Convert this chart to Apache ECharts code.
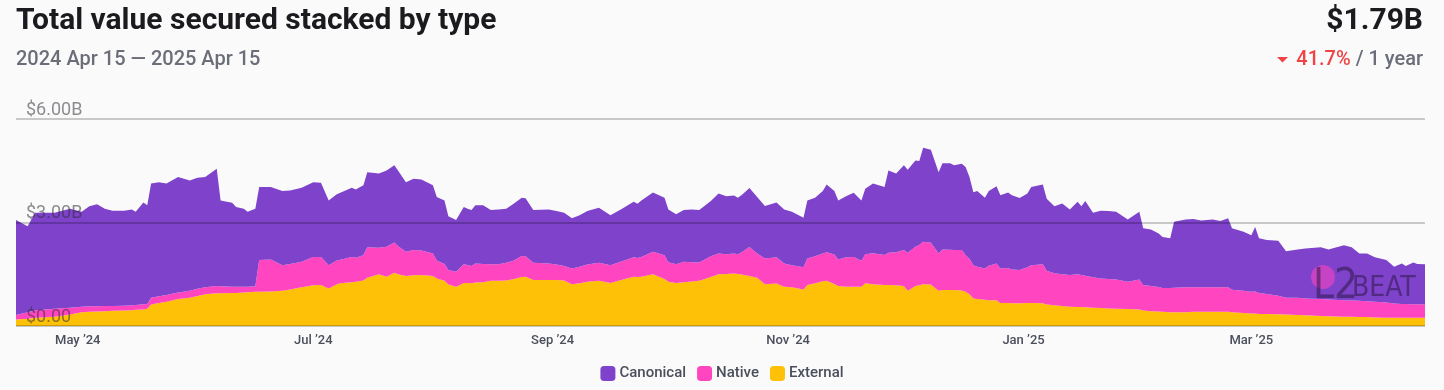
<!DOCTYPE html>
<html>
<head>
<meta charset="utf-8">
<script src="https://cdn.jsdelivr.net/npm/echarts@6/dist/echarts.min.js"></script>
<style>
html,body{margin:0;padding:0;background:#fafafa;}
#chart{width:1444px;height:390px;}
</style>
</head>
<body>
<div id="chart"></div>
<script>
// ---- data (USD billions) ----
const dates = ['2024-04-15','2024-04-18','2024-04-20','2024-04-25','2024-04-29','2024-05-02','2024-05-04','2024-05-06','2024-05-08','2024-05-10',
'2024-05-13','2024-05-15','2024-05-16','2024-05-18','2024-05-19','2024-05-20','2024-05-22','2024-05-24','2024-05-27','2024-05-30',
'2024-06-01','2024-06-03','2024-06-06','2024-06-07','2024-06-10','2024-06-11','2024-06-13','2024-06-14','2024-06-16','2024-06-17',
'2024-06-20','2024-06-23','2024-06-25','2024-06-28','2024-07-01','2024-07-03','2024-07-05','2024-07-07','2024-07-08','2024-07-11',
'2024-07-12','2024-07-14','2024-07-15','2024-07-18','2024-07-20','2024-07-22','2024-07-23','2024-07-25','2024-07-27','2024-07-29',
'2024-08-01','2024-08-02','2024-08-04','2024-08-05','2024-08-07','2024-08-09','2024-08-10','2024-08-11','2024-08-12','2024-08-14',
'2024-08-16','2024-08-18','2024-08-20','2024-08-22','2024-08-24','2024-08-25','2024-08-27','2024-08-31','2024-09-02','2024-09-04',
'2024-09-06','2024-09-08','2024-09-10','2024-09-13','2024-09-16','2024-09-19','2024-09-22','2024-09-23','2024-09-24','2024-09-27',
'2024-09-30','2024-10-01','2024-10-03','2024-10-05','2024-10-07','2024-10-09','2024-10-12','2024-10-14','2024-10-16','2024-10-18',
'2024-10-19','2024-10-20','2024-10-22','2024-10-24','2024-10-26','2024-10-29','2024-10-31','2024-11-02','2024-11-05','2024-11-06',
'2024-11-08','2024-11-10','2024-11-11','2024-11-13','2024-11-14','2024-11-16','2024-11-18','2024-11-20','2024-11-21','2024-11-23',
'2024-11-26','2024-11-27','2024-11-29','2024-12-01','2024-12-02','2024-12-04','2024-12-05','2024-12-06','2024-12-08','2024-12-10',
'2024-12-11','2024-12-13','2024-12-14','2024-12-16','2024-12-17','2024-12-18','2024-12-19','2024-12-20','2024-12-22','2024-12-23',
'2024-12-25','2024-12-26','2024-12-28','2024-12-29','2024-12-31','2025-01-02','2025-01-03','2025-01-06','2025-01-07','2025-01-09',
'2025-01-11','2025-01-13','2025-01-15','2025-01-16','2025-01-17','2025-01-19','2025-01-21','2025-01-23','2025-01-25','2025-01-28',
'2025-01-31','2025-02-01','2025-02-03','2025-02-05','2025-02-06','2025-02-08','2025-02-09','2025-02-12','2025-02-14','2025-02-16',
'2025-02-19','2025-02-21','2025-02-23','2025-02-24','2025-02-27','2025-03-01','2025-03-02','2025-03-03','2025-03-05','2025-03-08',
'2025-03-10','2025-03-13','2025-03-15','2025-03-19','2025-03-21','2025-03-25','2025-03-27','2025-03-29','2025-03-31','2025-04-02',
'2025-04-05','2025-04-07','2025-04-09','2025-04-10','2025-04-12','2025-04-13','2025-04-15'];

const canonical = [2.75,2.49,2.82,2.78,2.87,2.75,2.90,2.96,2.82,2.76,
2.75,2.78,2.70,2.95,2.86,3.31,3.31,3.23,3.35,3.20,
3.22,3.20,3.40,2.49,2.43,2.31,2.26,2.17,2.25,2.12,
2.10,2.15,2.13,2.15,2.17,2.15,1.88,1.92,1.94,2.01,
1.98,2.03,2.18,2.15,2.21,2.24,2.19,2.02,2.07,2.06,
1.98,1.84,1.84,1.56,1.50,1.66,1.63,1.62,1.69,1.70,
1.57,1.59,1.57,1.65,1.69,1.68,1.53,1.57,1.55,1.54,
1.45,1.49,1.55,1.60,1.45,1.52,1.61,1.57,1.64,1.72,
1.67,1.53,1.45,1.50,1.53,1.52,1.60,1.74,1.68,1.68,
1.64,1.66,1.71,1.64,1.52,1.59,1.57,1.55,1.44,1.68,
1.70,1.81,1.96,1.84,1.71,1.77,1.86,1.75,1.90,2.02,
1.97,2.39,2.28,2.46,2.41,2.50,2.43,2.73,2.70,2.36,
2.50,2.51,2.46,2.50,2.56,2.37,2.12,2.19,2.05,2.16,
2.24,2.12,2.19,2.15,2.09,2.14,2.27,2.31,2.09,1.94,
2.05,1.90,2.10,1.99,2.16,1.87,1.96,1.97,1.96,1.81,
1.96,1.64,1.64,1.55,1.48,1.44,1.91,1.97,1.98,1.94,
1.97,1.92,2.00,1.78,1.71,1.64,1.87,1.58,1.56,1.59,
1.35,1.40,1.45,1.50,1.45,1.59,1.54,1.37,1.38,1.29,
1.23,1.07,1.17,1.10,1.21,1.17,1.16];

const native = [0.13,0.19,0.22,0.23,0.20,0.16,0.16,0.15,0.15,0.14,
0.14,0.14,0.14,0.15,0.14,0.20,0.19,0.20,0.19,0.20,
0.21,0.20,0.21,0.20,0.18,0.18,0.17,0.16,0.16,0.92,
0.93,0.74,0.74,0.74,0.82,0.81,0.67,0.69,0.68,0.73,
0.70,0.73,0.88,0.77,0.87,0.88,0.81,0.70,0.73,0.71,
0.65,0.52,0.49,0.42,0.43,0.54,0.52,0.50,0.55,0.53,
0.48,0.48,0.51,0.54,0.61,0.59,0.50,0.48,0.45,0.42,
0.46,0.48,0.50,0.52,0.51,0.54,0.56,0.55,0.57,0.65,
0.69,0.57,0.54,0.59,0.56,0.53,0.60,0.60,0.57,0.58,
0.57,0.65,0.84,0.70,0.75,0.76,0.67,0.64,0.64,0.77,
0.78,0.80,0.83,0.85,0.77,0.85,0.86,0.75,0.84,0.90,
0.87,0.93,0.96,1.04,1.10,1.14,1.17,1.23,1.21,1.08,
1.18,1.17,1.16,1.17,1.06,1.03,0.96,0.94,0.91,1.00,
1.06,1.00,1.01,0.98,0.96,1.03,1.09,1.13,0.98,0.93,
0.92,0.92,0.95,0.93,0.92,0.88,0.86,0.85,0.85,0.79,
0.87,0.74,0.73,0.71,0.69,0.70,0.71,0.72,0.71,0.71,
0.71,0.71,0.71,0.65,0.64,0.63,0.64,0.61,0.58,0.54,
0.49,0.50,0.49,0.49,0.49,0.48,0.47,0.47,0.46,0.45,
0.44,0.41,0.40,0.40,0.39,0.39,0.39];

const external = [0.19,0.21,0.24,0.27,0.33,0.40,0.41,0.42,0.43,0.44,
0.45,0.46,0.47,0.48,0.50,0.62,0.67,0.70,0.78,0.82,
0.87,0.92,0.95,0.95,0.96,0.96,0.97,0.98,0.99,0.99,
1.00,1.02,1.06,1.12,1.18,1.19,1.09,1.20,1.24,1.27,
1.28,1.32,1.40,1.50,1.43,1.54,1.50,1.45,1.47,1.48,
1.45,1.38,1.31,1.20,1.14,1.25,1.25,1.24,1.26,1.27,
1.31,1.31,1.32,1.36,1.42,1.43,1.33,1.33,1.33,1.32,
1.21,1.24,1.28,1.31,1.25,1.34,1.43,1.42,1.43,1.50,
1.36,1.28,1.25,1.27,1.29,1.31,1.42,1.50,1.51,1.52,
1.51,1.49,1.45,1.40,1.21,1.23,1.14,1.12,1.06,1.19,
1.24,1.30,1.31,1.22,1.16,1.14,1.14,1.14,1.24,1.21,
1.19,1.19,1.18,1.16,1.02,1.16,1.18,1.21,1.20,1.02,
1.04,1.04,1.04,1.03,0.99,0.92,0.80,0.78,0.76,0.75,
0.75,0.67,0.67,0.66,0.66,0.67,0.67,0.66,0.62,0.60,
0.58,0.56,0.55,0.55,0.54,0.53,0.52,0.51,0.50,0.49,
0.48,0.45,0.43,0.42,0.41,0.40,0.40,0.40,0.41,0.41,
0.41,0.41,0.41,0.40,0.38,0.36,0.36,0.35,0.35,0.34,
0.33,0.32,0.31,0.29,0.28,0.27,0.27,0.26,0.26,0.25,
0.24,0.24,0.24,0.24,0.24,0.24,0.24];

const xTickDates = ['2024-05-01','2024-07-01','2024-09-01','2024-11-01','2025-01-01','2025-03-01'];
const monthNames = ['Jan','Feb','Mar','Apr','May','Jun','Jul','Aug','Sep','Oct','Nov','Dec'];

const titleText = 'Total value secured stacked by type';
const rangeText = '2024 Apr 15 \u2014 2025 Apr 15';
const totalText = '$1.79B';
const changeText = '41.7%';
const periodText = ' / 1 year';

// ---- build ----
const ts = s => { const p = s.split('-').map(Number); return Date.UTC(p[0], p[1]-1, p[2]); };
// value first, date second (so the stack is computed on the value dimension)
const pairs = arr => arr.map((v, i) => [v, ts(dates[i])]);

const FONT = 'Roboto, "Noto Sans", sans-serif';
const chart = echarts.init(document.getElementById('chart'), null, {renderer: 'canvas'});

const areaSeries = (name, data, color) => ({
  name, type: 'line', stack: 'tvs', data: pairs(data),
  encode: {x: 1, y: 0},
  showSymbol: false, symbol: 'none', smooth: false,
  lineStyle: {width: 0}, areaStyle: {color, opacity: 1}, itemStyle: {color},
  emphasis: {disabled: true}, z: 2
});

chart.setOption({
  animation: false,
  backgroundColor: '#fafafa',
  textStyle: {fontFamily: FONT},
  grid: {left: 16, right: 19, top: 119, bottom: 64, containLabel: false},
  xAxis: {
    type: 'value',
    min: ts('2024-04-15'), max: ts('2025-04-15'),
    axisLine: {show: false}, axisTick: {show: false}, splitLine: {show: false},
    axisLabel: {
      customValues: xTickDates.map(ts),
      fontSize: 13, fontWeight: 500, color: '#4b4f5c', margin: 8, fontFamily: FONT,
      formatter: v => { const d = new Date(v); return monthNames[d.getUTCMonth()] + ' \u2019' + String(d.getUTCFullYear()).slice(2); }
    }
  },
  yAxis: {
    type: 'value', min: 0, max: 6, interval: 3, z: 10,
    axisLine: {show: false}, axisTick: {show: false},
    splitLine: {show: true, lineStyle: {color: 'rgba(0,0,0,0.2)', width: 2}},
    axisLabel: {
      inside: true, verticalAlign: 'bottom', margin: 10, fontSize: 18, fontFamily: FONT,
      color: 'rgba(45,45,55,0.55)',
      formatter: v => v === 0 ? '$0.00' : '$' + v.toFixed(2) + 'B'
    }
  },
  legend: {
    data: ['Canonical', 'Native', 'External'],
    left: 'center', top: 361, itemWidth: 15, itemHeight: 15, itemGap: 11,
    icon: 'roundRect', selectedMode: false,
    textStyle: {fontSize: 15, fontWeight: 500, color: '#4b4f5c', fontFamily: FONT, padding: [0,0,0,-1]}
  },
  series: [
    areaSeries('External', external, '#ffc107'),
    areaSeries('Native', native, '#ff46c0'),
    areaSeries('Canonical', canonical, '#7e42cb')
  ],
  graphic: [
    {type: 'text', left: 16, top: 6, z: 100, style: {text: titleText, font: '700 30px ' + FONT, fill: '#1b1b1f'}},
    {type: 'text', left: 16, top: 50, z: 100, style: {text: rangeText, font: '500 20px ' + FONT, fill: '#6b6e78'}},
    {type: 'text', right: 21, top: 6, z: 100, style: {text: totalText, font: '700 30px ' + FONT, fill: '#1b1b1f'}},
    {type: 'text', right: 21, top: 50, z: 100, style: {
      text: '{r|' + changeText + '}{g|' + periodText + '}', font: '500 20px ' + FONT,
      rich: {r: {fill: '#f04444', font: '500 20px ' + FONT}, g: {fill: '#6b6e78', font: '500 20px ' + FONT}}
    }},
    {type: 'polygon', z: 100, shape: {points: [[1277, 57], [1288, 57], [1282.5, 62.5]]}, style: {fill: '#f04444'}},
    // watermark
    {type: 'circle', z: 50, shape: {cx: 1323, cy: 277, r: 12}, style: {fill: 'rgba(255,70,192,0.55)'}},
    {type: 'text', z: 51, x: 1313, y: 266, style: {text: 'L2', font: '400 42px "Liberation Sans Narrow", "DejaVu Sans Condensed", sans-serif', fill: 'rgba(35,20,55,0.5)'}},
    {type: 'text', z: 51, x: 1352, y: 275, style: {text: 'BEAT', font: '400 28px "Liberation Sans Narrow", "DejaVu Sans Condensed", sans-serif', fill: 'rgba(35,20,55,0.5)'}}
  ]
});
</script>
</body>
</html>
